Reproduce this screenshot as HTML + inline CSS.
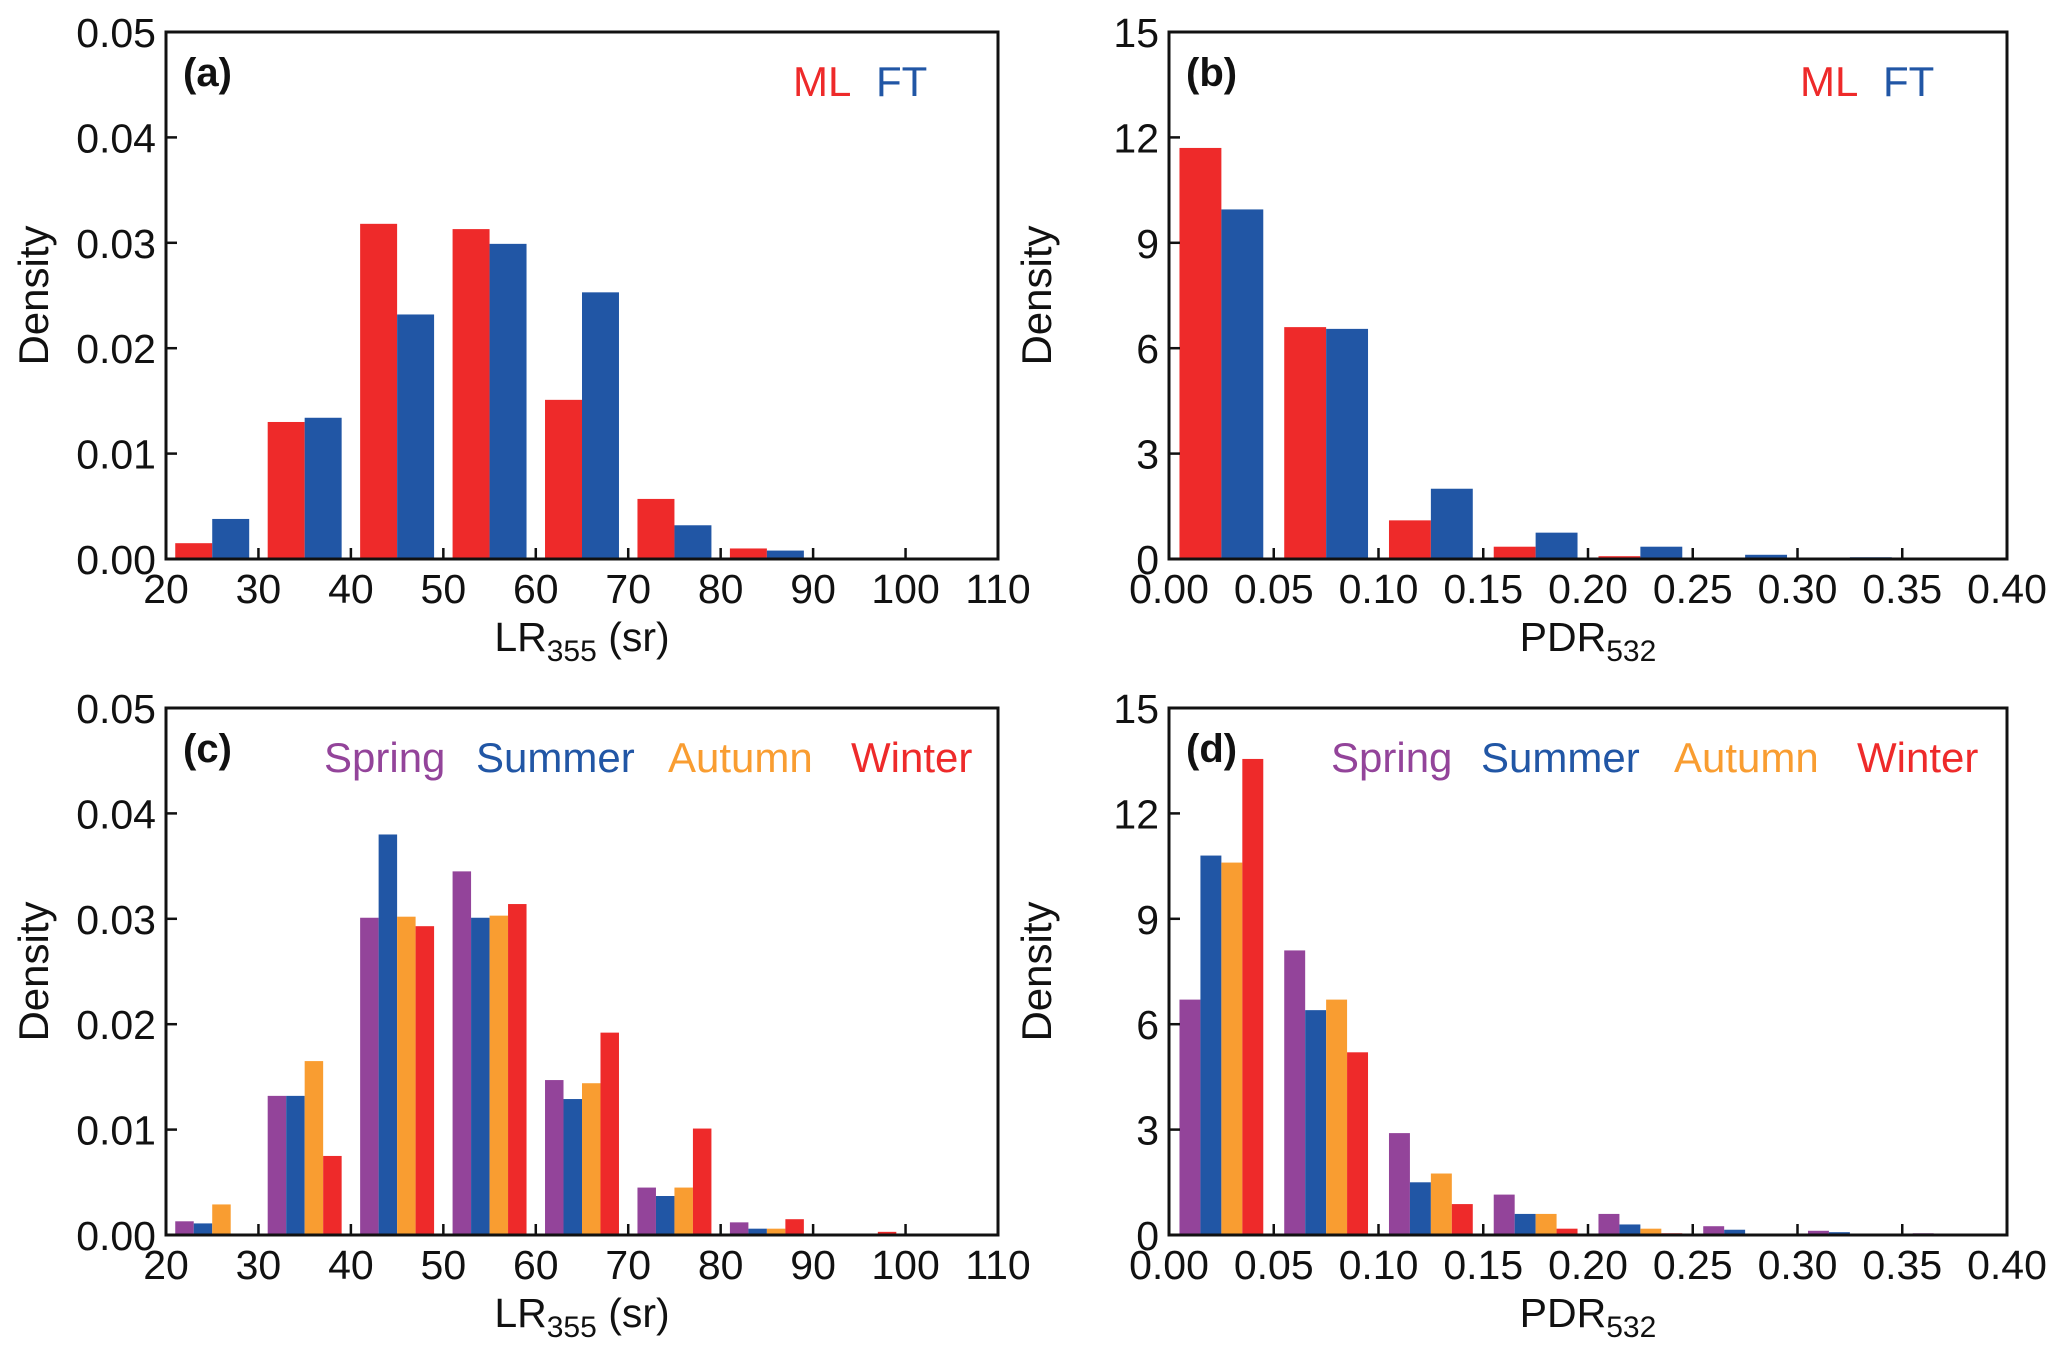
<!DOCTYPE html>
<html><head><meta charset="utf-8"><style>
html,body{margin:0;padding:0;background:#fff;}
svg{display:block;font-family:"Liberation Sans","DejaVu Sans",sans-serif;}
</style></head><body>
<svg id="fig" width="2067" height="1351" viewBox="0 0 2067 1351" xmlns="http://www.w3.org/2000/svg"></svg>
<script>
// Panel (a) data: LR355 ML vs FT
const lrBins = [20,30,40,50,60,70,80,90,100];
const lrML = [0.0015,0.0130,0.0318,0.0313,0.0151,0.0057,0.0010,0,0];
const lrFT = [0.0038,0.0134,0.0232,0.0299,0.0253,0.0032,0.0008,0,0];
// Panel (b) data: PDR532 ML vs FT
const pdrBins = [0,0.05,0.10,0.15,0.20,0.25,0.30,0.35];
const pdrML = [11.7,6.6,1.1,0.35,0.08,0,0,0];
const pdrFT = [9.95,6.55,2.0,0.75,0.35,0.12,0.05,0];
// Panel (c) data: LR355 by season
const lrSpring = [0.0013,0.0132,0.0301,0.0345,0.0147,0.0045,0.0012,0,0];
const lrSummer = [0.0011,0.0132,0.0380,0.0301,0.0129,0.0037,0.0006,0,0];
const lrAutumn = [0.0029,0.0165,0.0302,0.0303,0.0144,0.0045,0.0006,0,0];
const lrWinter = [0,0.0075,0.0293,0.0314,0.0192,0.0101,0.0015,0.0003,0];
// Panel (d) data: PDR532 by season
const pdrSpring = [6.7,8.1,2.9,1.15,0.6,0.25,0.12,0.05];
const pdrSummer = [10.8,6.4,1.5,0.6,0.3,0.15,0.08,0];
const pdrAutumn = [10.6,6.7,1.75,0.6,0.18,0.04,0,0];
const pdrWinter = [13.55,5.2,0.88,0.18,0.05,0,0,0];
// Tick labels
const lrXTicks = ["20","30","40","50","60","70","80","90","100","110"];
const pdrXTicks = ["0.00","0.05","0.10","0.15","0.20","0.25","0.30","0.35","0.40"];
const lrYTicks = ["0.00","0.01","0.02","0.03","0.04","0.05"];
const pdrYTicks = ["0","3","6","9","12","15"];

const RED="#ee2a2a", BLUE="#2156a5", PURPLE="#93449a", ORANGE="#f99d31";
const NS="http://www.w3.org/2000/svg";
const svg=document.getElementById('fig');
function mk(tag,attrs,parent){const e=document.createElementNS(NS,tag);for(const k in attrs)e.setAttribute(k,attrs[k]);(parent||svg).appendChild(e);return e;}

function panel(id,L,R,T,B,xmin,xmax,xTicks,xTickVals,ymax,yTicks,bins,binW,series,xTitle,sub,unit,label,legend){
  const g=mk('g',{});
  
  
  const xs=v=>L+(v-xmin)/(xmax-xmin)*(R-L);
  const ys=v=>B-v/ymax*(B-T);
  const n=series.length, w=0.8/n;
  series.forEach((s,si)=>{
    s.vals.forEach((v,i)=>{
      if(v<=0)return;
      const x0=xs(bins[i]+binW*(0.1+si*w)), x1=xs(bins[i]+binW*(0.1+(si+1)*w));
      const r=mk('rect',{x:x0,y:ys(v),width:x1-x0,height:B-ys(v),fill:s.color},g);
      
      
    });
  });
  xTicks.forEach((t,i)=>{
    const x=xs(xTickVals[i]);
    mk('line',{x1:x,x2:x,y1:B,y2:B-11,stroke:'#111','stroke-width':2.5},g);
    const tx=mk('text',{x:x,y:B+44,'font-size':41,'text-anchor':'middle',fill:'#111'},g);
    tx.textContent=t;
    
    
  });
  yTicks.forEach((t,i)=>{
    const y=ys(ymax*i/(yTicks.length-1));
    mk('line',{x1:L,x2:L+11,y1:y,y2:y,stroke:'#111','stroke-width':2.5},g);
    const tx=mk('text',{x:L-10,y:y+15,'font-size':41,'text-anchor':'end',fill:'#111'},g);
    tx.textContent=t;
    
    
  });
  const fr=mk('rect',{x:L,y:T,width:R-L,height:B-T,fill:'none',stroke:'#111','stroke-width':3},g);
  
  
  const xt=mk('text',{x:(L+R)/2,y:B+92,'font-size':41,'text-anchor':'middle',fill:'#111'},g);
  
  
  const t1=mk('tspan',{},xt);t1.textContent=xTitle;
  const t2=mk('tspan',{dy:10,'font-size':30},xt);t2.textContent=sub;
  if(unit){const t3=mk('tspan',{dy:-10},xt);t3.textContent=unit;}
  const yt=mk('text',{x:0,y:0,'font-size':42,'text-anchor':'middle',fill:'#111',transform:`translate(${L-118},${(T+B)/2}) rotate(-90)`},g);
  yt.textContent='Density';
  
  
  const pl=mk('text',{x:L+17,y:T+54,'font-size':40,'font-weight':'bold',fill:'#111'},g);
  pl.textContent=label;
  
  
  legend.forEach(l=>{
    const e=mk('text',{x:l.x,y:T+64,'font-size':42,fill:l.color},g);
    e.textContent=l.text;
    
    
  });
}
const lrTV=[20,30,40,50,60,70,80,90,100,110];
const pdrTV=[0,0.05,0.10,0.15,0.20,0.25,0.30,0.35,0.40];
panel('a',166,998,32,559,20,110,lrXTicks,lrTV,0.05,lrYTicks,lrBins,10,
  [{name:'ml',vals:lrML,color:RED},{name:'ft',vals:lrFT,color:BLUE}],
  'LR','355',' (sr)','(a)',[{text:'ML',x:793,color:RED},{text:'FT',x:876,color:BLUE}]);
panel('b',1169,2007,32,559,0,0.40,pdrXTicks,pdrTV,15,pdrYTicks,pdrBins,0.05,
  [{name:'ml',vals:pdrML,color:RED},{name:'ft',vals:pdrFT,color:BLUE}],
  'PDR','532','','(b)',[{text:'ML',x:1800,color:RED},{text:'FT',x:1883,color:BLUE}]);
panel('c',166,998,708,1235,20,110,lrXTicks,lrTV,0.05,lrYTicks,lrBins,10,
  [{name:'spring',vals:lrSpring,color:PURPLE},{name:'summer',vals:lrSummer,color:BLUE},{name:'autumn',vals:lrAutumn,color:ORANGE},{name:'winter',vals:lrWinter,color:RED}],
  'LR','355',' (sr)','(c)',[{text:'Spring',x:324,color:PURPLE},{text:'Summer',x:476,color:BLUE},{text:'Autumn',x:668,color:ORANGE},{text:'Winter',x:851,color:RED}]);
panel('d',1169,2007,708,1235,0,0.40,pdrXTicks,pdrTV,15,pdrYTicks,pdrBins,0.05,
  [{name:'spring',vals:pdrSpring,color:PURPLE},{name:'summer',vals:pdrSummer,color:BLUE},{name:'autumn',vals:pdrAutumn,color:ORANGE},{name:'winter',vals:pdrWinter,color:RED}],
  'PDR','532','','(d)',[{text:'Spring',x:1331,color:PURPLE},{text:'Summer',x:1481,color:BLUE},{text:'Autumn',x:1674,color:ORANGE},{text:'Winter',x:1857,color:RED}]);
</script>
</body></html>
